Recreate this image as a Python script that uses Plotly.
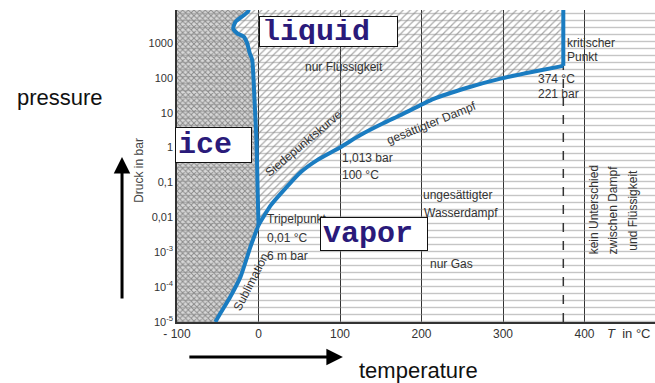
import plotly.graph_objects as go

# Phase boundaries of water: temperature in °C, pressure in bar
sub_T = [-53, -46.6, -34.4, -22, -9.8, 0.01]
sub_p = [1e-5, 1.8e-5, 5.4e-5, 2.0e-4, 1.45e-3, 0.006]

vap_T = [0.01, 15, 27, 52, 72, 100, 125, 153, 174, 215, 256, 297, 337, 374]
vap_p = [0.006, 0.022, 0.047, 0.2, 0.44, 1.013, 2.3, 5.0, 8.5, 25, 52, 95, 150, 221]

melt_T = [0.01, -1.2, -2.5, -4.9, -7.7, -10.7, -13.9, -18, -26, -31, -28, -13, -11]
melt_p = [0.006, 0.085, 1.66, 23, 324, 507, 980, 1510, 1890, 2630, 4080, 7890, 12300]

crit_T, crit_p = 374, 221

x_ticks = [-100, 0, 100, 200, 300, 400]
x_ticktext = ["- 100", "0", "100", "200", "300", "400"]
y_ticks = [1e-5, 1e-4, 1e-3, 0.01, 0.1, 1, 10, 100, 1000]
y_ticktext = ["10<sup>-5</sup>", "10<sup>-4</sup>", "10<sup>-3</sup>", "0,01", "0,1",
              "1", "10", "100", "1000"]

x_min, x_max = -100, 486.5
logy_min, logy_max = -5, 3.946
p_bot, p_top = 10 ** logy_min, 10 ** logy_max

BLUE = "#1a7cc1"
INK = "#2a1a7a"
GREY = "#333333"

fig = go.Figure()

# ice region: dense cross hatching
fig.add_trace(go.Scatter(
    x=[x_min] + sub_T + melt_T[1:] + [x_min],
    y=[p_bot] + sub_p + melt_p[1:] + [melt_p[-1]],
    fill="toself", mode="lines", line=dict(width=0),
    fillcolor="#d6d6d6",
    fillpattern=dict(shape="x", size=4, solidity=0.42, fgcolor="#3a3a3a", bgcolor="#d8d8d8"),
    hoverinfo="skip", showlegend=False))

# liquid region: diagonal hatching
fig.add_trace(go.Scatter(
    x=melt_T + [melt_T[-1], crit_T, crit_T] + vap_T[::-1][1:],
    y=melt_p + [melt_p[-1], melt_p[-1], crit_p] + vap_p[::-1][1:],
    fill="toself", mode="lines", line=dict(width=0),
    fillcolor="rgba(0,0,0,0)",
    fillpattern=dict(shape="/", size=5, solidity=0.25, fgcolor="#555555", bgcolor="rgba(0,0,0,0)"),
    hoverinfo="skip", showlegend=False))

# horizontal ruling across the whole diagram
fig.add_trace(go.Scatter(
    x=[x_min, x_max, x_max, x_min, x_min], y=[p_bot, p_bot, p_top, p_top, p_bot],
    fill="toself", mode="lines", line=dict(width=0),
    fillcolor="rgba(255,255,255,0)",
    fillpattern=dict(shape="-", size=7, solidity=0.2, fgcolor="#8c8c8c", bgcolor="rgba(255,255,255,0)"),
    hoverinfo="skip", showlegend=False))

# critical isotherm below the critical point (dashed)
fig.add_trace(go.Scatter(
    x=[crit_T, crit_T], y=[p_bot, crit_p], mode="lines",
    line=dict(color=GREY, width=1.5, dash="dash"),
    hoverinfo="skip", showlegend=False))

# phase boundary curves
for xs, ys in [(sub_T, sub_p), (vap_T, vap_p), (melt_T, melt_p),
               ([crit_T, crit_T], [crit_p, melt_p[-1]])]:
    fig.add_trace(go.Scatter(
        x=xs, y=ys, mode="lines",
        line=dict(color=BLUE, width=4, shape="spline", smoothing=0.6),
        hoverinfo="skip", showlegend=False))

txt = dict(family="Liberation Sans, Arial, sans-serif", size=12, color=GREY)
ann = []


def label(x, logy, text, anchor="left", angle=0, size=12):
    ann.append(dict(x=x, y=logy, xref="x", yref="y", text=text, showarrow=False,
                    xanchor=anchor, yanchor="middle", textangle=angle,
                    font=dict(txt, size=size)))


label(105, 2.31, "nur Flüssigkeit", anchor="center")
label(376, 3.0, "kritischer")
label(376, 2.6, "Punkt")
label(340, 1.97, "374 °C")
label(340, 1.54, "221 bar")
label(212, 0.70, "gesättigter Dampf", anchor="center", angle=-22)
label(56, 0.12, "Siedepunktskurve", anchor="center", angle=-40)
label(100.5, -0.30, "1,013 bar")
label(100.5, -0.79, "100 °C")
label(199, -1.36, "ungesättigter")
label(201, -1.88, "Wasserdampf")
label(8.5, -2.05, "Tripelpunkt")
label(8.5, -2.59, "0,01 °C")
label(8.5, -3.11, "6 m bar")
label(208, -3.34, "nur Gas")
label(-9, -3.86, "Sublimation", anchor="center", angle=-63)
label(412, -1.79, "kein Unterschied", anchor="center", angle=-90)
label(435.5, -1.79, "zwischen Dampf", anchor="center", angle=-90)
label(459, -1.79, "und Flüssigkeit", anchor="center", angle=-90)

# phase names in framed boxes
box_font = dict(family="Liberation Mono, Courier New, monospace", size=30, color=INK)
for x, logy, text, w, h in [(85.3, 3.344, "<b>liquid</b>", 133, 25),
                             (-55, 0.061, "<b>ice</b>", 71, 30),
                             (142.3, -2.477, "<b>vapor</b>", 102, 28)]:
    ann.append(dict(x=x, y=logy, xref="x", yref="y", text=text, showarrow=False,
                    xanchor="center", yanchor="middle", align="left",
                    width=w, height=h, borderpad=2, borderwidth=1,
                    bordercolor="#111111", bgcolor="white", font=box_font))

side = dict(family="Liberation Sans, Arial, sans-serif", size=22, color="#111111")
ann += [
    dict(x=-0.245, y=0.72, xref="paper", yref="paper", text="pressure", showarrow=False,
         xanchor="center", yanchor="middle", font=side),
    dict(x=0.505, y=-0.154, xref="paper", yref="paper", text="temperature", showarrow=False,
         xanchor="center", yanchor="middle", font=side),
    dict(x=-0.08, y=0.487, xref="paper", yref="paper", text="Druck in bar", showarrow=False,
         textangle=-90, xanchor="center", yanchor="middle", font=dict(txt, size=12, color="#444")),
    dict(x=0.895, y=-0.036, xref="paper", yref="paper", text="<i>T</i>  in °C", showarrow=False,
         xanchor="left", yanchor="middle", font=dict(txt, size=13)),
    dict(x=-0.115, y=0.529, xref="paper", yref="paper", text="", showarrow=True,
         ax=0, ay=143, arrowhead=2, arrowsize=1.1, arrowwidth=3, arrowcolor="#000"),
    dict(x=0.347, y=-0.112, xref="paper", yref="paper", text="", showarrow=True,
         ax=-155, ay=0, arrowhead=2, arrowsize=1.1, arrowwidth=3, arrowcolor="#000"),
]

fig.update_layout(
    width=655, height=383,
    margin=dict(l=177, r=0, t=10, b=61),
    paper_bgcolor="white", plot_bgcolor="white",
    annotations=ann,
    xaxis=dict(range=[x_min, x_max], tickvals=x_ticks, ticktext=x_ticktext,
               showgrid=True, gridcolor=GREY, gridwidth=1.2, zeroline=False,
               showline=True, linecolor=GREY, linewidth=1.5, ticks="",
               tickfont=dict(txt, size=12)),
    yaxis=dict(type="log", range=[logy_min, logy_max], tickvals=y_ticks,
               ticktext=y_ticktext, showgrid=False, zeroline=False,
               showline=True, linecolor=GREY, linewidth=1.5, ticks="",
               tickfont=dict(txt, size=11)),
)

fig.write_html("out.html")
